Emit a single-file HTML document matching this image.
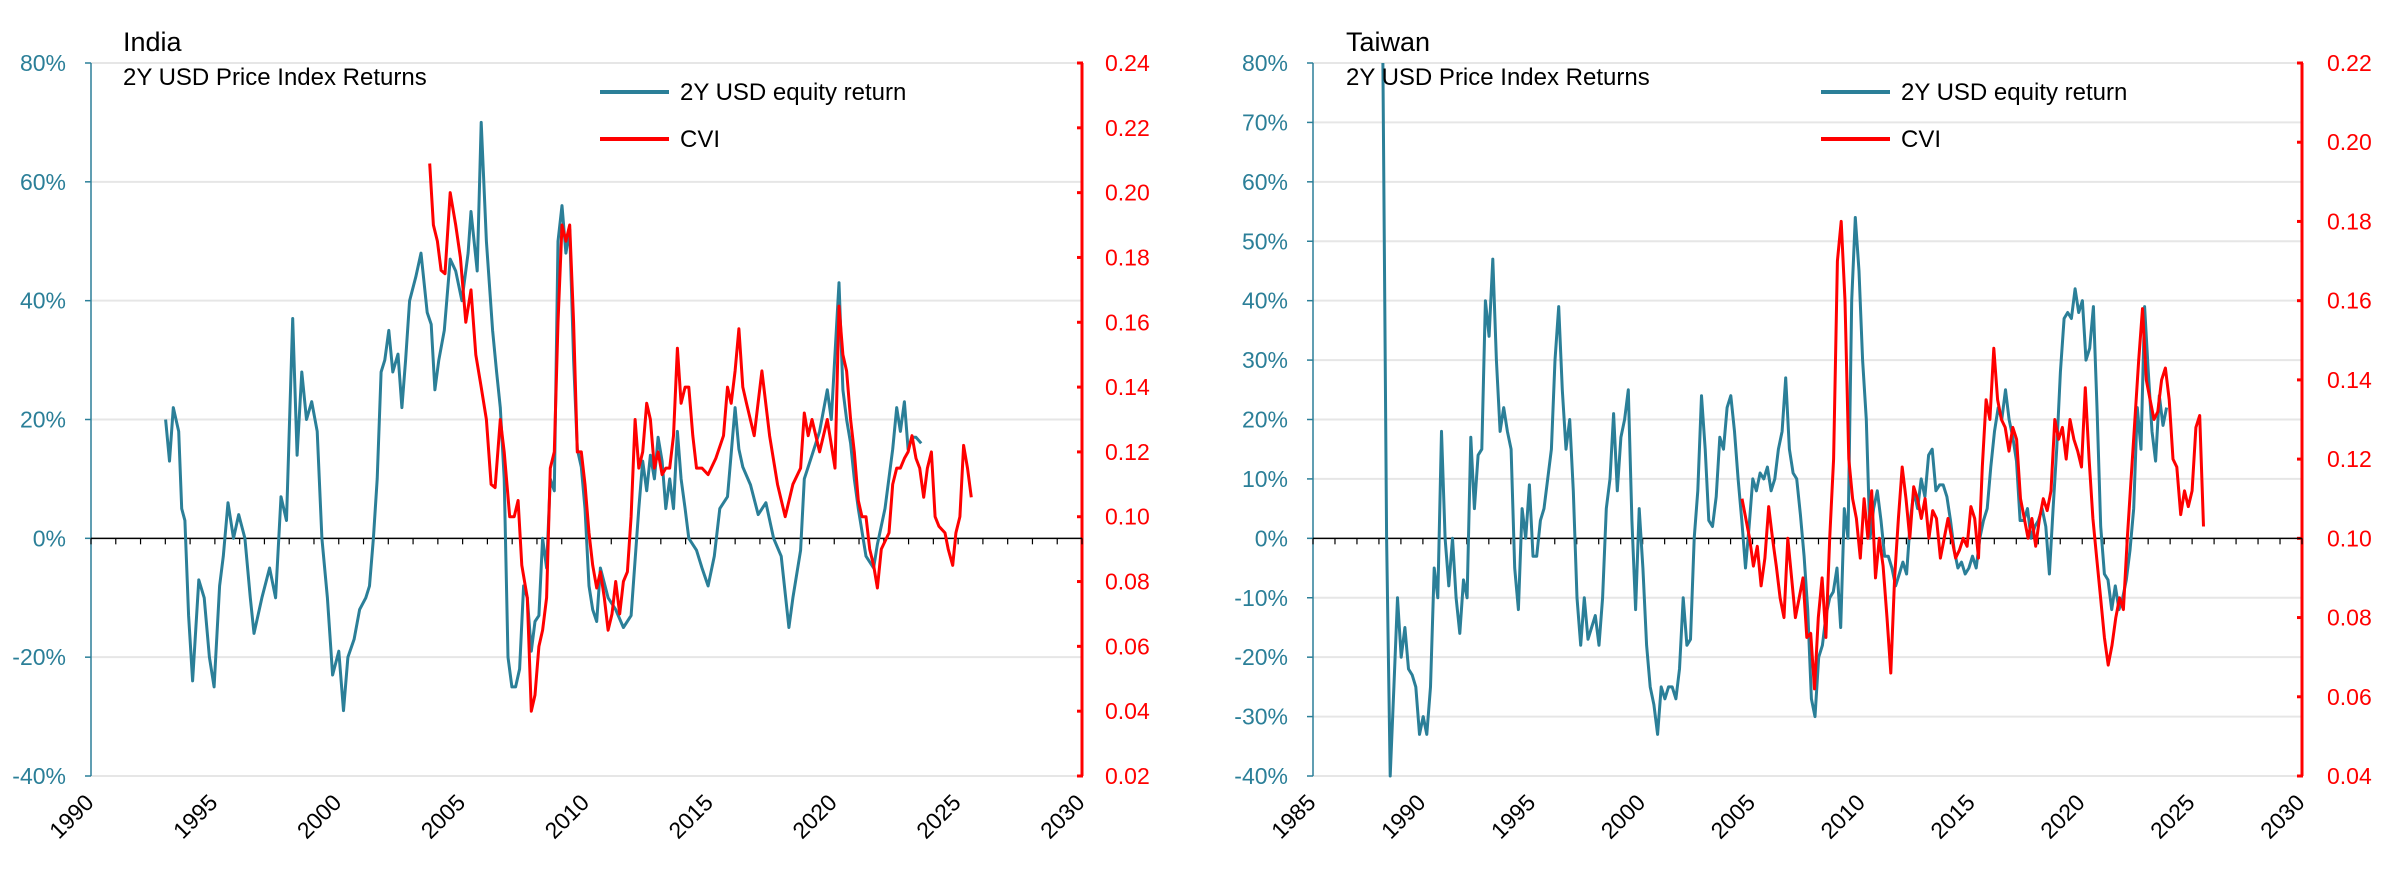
<!DOCTYPE html>
<html><head><meta charset="utf-8"><style>
html,body{margin:0;padding:0;background:#fff;}
svg{display:block;font-family:"Liberation Sans Narrow","Liberation Sans",sans-serif;}
</style></head><body>
<svg id="chart" width="2400" height="874" viewBox="0 0 2400 874"></svg>
<script>
// ---------------- DATA ----------------
const inEqYears=[1993.01,1993.17,1993.32,1993.54,1993.66,1993.79,1993.94,1994.10,1994.35,1994.57,1994.78,1994.97,1995.19,1995.34,1995.53,1995.75,1995.96,1996.21,1996.43,1996.58,1996.90,1997.21,1997.45,1997.67,1997.89,1998.14,1998.32,1998.51,1998.70,1998.91,1999.13,1999.32,1999.54,1999.75,2000.00,2000.19,2000.37,2000.62,2000.84,2001.09,2001.24,2001.40,2001.55,2001.71,2001.86,2002.02,2002.18,2002.39,2002.55,2002.70,2002.86,2003.11,2003.32,2003.57,2003.73,2003.88,2004.04,2004.26,2004.50,2004.72,2004.97,2005.22,2005.34,2005.59,2005.75,2005.96,2006.21,2006.37,2006.52,2006.68,2006.83,2006.99,2007.14,2007.30,2007.46,2007.61,2007.77,2007.92,2008.08,2008.23,2008.39,2008.54,2008.70,2008.85,2009.01,2009.17,2009.32,2009.48,2009.63,2009.79,2009.94,2010.10,2010.25,2010.41,2010.56,2010.87,2011.18,2011.49,2011.80,2012.11,2012.27,2012.43,2012.58,2012.74,2012.89,2013.05,2013.20,2013.36,2013.51,2013.67,2013.82,2013.98,2014.13,2014.44,2014.66,2014.91,2015.16,2015.38,2015.69,2016.00,2016.15,2016.31,2016.62,2016.93,2017.24,2017.55,2017.86,2018.17,2018.33,2018.64,2018.79,2019.10,2019.41,2019.72,2019.88,2020.19,2020.35,2020.50,2020.66,2020.81,2020.97,2021.28,2021.59,2021.74,2022.05,2022.36,2022.52,2022.67,2022.83,2022.98,2023.14,2023.30,2023.51];
const inEqValues=[20,13,22,18,5,3,-13,-24,-7,-10,-20,-25,-8,-3,6,0,4,0,-10,-16,-10,-5,-10,7,3,37,14,28,20,23,18,0,-10,-23,-19,-29,-20,-17,-12,-10,-8,0,10,28,30,35,28,31,22,30,40,44,48,38,36,25,30,35,47,45,40,48,55,45,70,50,35,28,22,10,-20,-25,-25,-22,-8,-10,-19,-14,-13,0,-5,10,8,50,56,48,52,30,15,12,5,-8,-12,-14,-5,-10,-12,-15,-13,5,13,8,14,10,17,13,5,10,5,18,10,5,0,-2,-5,-8,-3,5,7,22,15,12,9,4,6,0,-3,-15,-10,-2,10,14,18,25,20,43,25,20,16,10,5,-3,-5,-1,5,15,22,18,23,15,17,17,16];
const inCviYears=[2003.67,2003.82,2003.98,2004.13,2004.29,2004.50,2004.72,2004.91,2005.13,2005.34,2005.53,2005.75,2005.96,2006.15,2006.31,2006.52,2006.68,2006.90,2007.08,2007.24,2007.39,2007.61,2007.77,2007.92,2008.08,2008.23,2008.39,2008.54,2008.70,2008.85,2009.01,2009.17,2009.32,2009.48,2009.63,2009.79,2009.94,2010.10,2010.25,2010.41,2010.56,2010.72,2010.87,2011.03,2011.18,2011.34,2011.49,2011.65,2011.80,2011.96,2012.11,2012.27,2012.43,2012.58,2012.74,2012.89,2013.05,2013.20,2013.36,2013.51,2013.67,2013.82,2013.98,2014.13,2014.29,2014.44,2014.66,2014.91,2015.22,2015.53,2015.69,2015.84,2016.00,2016.15,2016.31,2016.46,2016.77,2017.08,2017.39,2017.71,2018.02,2018.33,2018.64,2018.79,2018.95,2019.10,2019.41,2019.72,2020.03,2020.19,2020.35,2020.50,2020.66,2020.81,2020.97,2021.12,2021.28,2021.43,2021.59,2021.74,2021.90,2022.21,2022.36,2022.52,2022.67,2022.83,2022.98,2023.14,2023.30,2023.45,2023.61,2023.76,2023.92,2024.07,2024.23,2024.47,2024.60,2024.78,2024.91,2025.07,2025.22,2025.38,2025.53];
const inCviValues=[0.209,0.19,0.185,0.176,0.175,0.2,0.19,0.18,0.16,0.17,0.15,0.14,0.13,0.11,0.109,0.13,0.12,0.10,0.10,0.105,0.085,0.075,0.04,0.045,0.06,0.065,0.075,0.115,0.12,0.16,0.19,0.185,0.19,0.16,0.12,0.12,0.11,0.095,0.085,0.078,0.083,0.075,0.065,0.07,0.08,0.07,0.08,0.083,0.1,0.13,0.115,0.12,0.135,0.13,0.115,0.12,0.113,0.115,0.115,0.125,0.152,0.135,0.14,0.14,0.125,0.115,0.115,0.113,0.118,0.125,0.14,0.135,0.145,0.158,0.14,0.135,0.125,0.145,0.125,0.11,0.1,0.11,0.115,0.132,0.125,0.13,0.12,0.13,0.115,0.165,0.15,0.145,0.13,0.12,0.105,0.1,0.1,0.09,0.085,0.078,0.09,0.095,0.11,0.115,0.115,0.118,0.12,0.125,0.118,0.115,0.106,0.115,0.12,0.1,0.097,0.095,0.09,0.085,0.095,0.1,0.122,0.115,0.106];

const twEqStart=1988.18, twEqEnd=2023.84;
const twEqValues=[80,0,-40,-25,-10,-20,-15,-22,-23,-25,-33,-30,-33,-25,-5,-10,18,0,-8,0,-10,-16,-7,-10,17,5,14,15,40,34,47,30,18,22,18,15,-5,-12,5,0,9,-3,-3,3,5,10,15,30,39,25,15,20,8,-10,-18,-10,-17,-15,-13,-18,-10,5,10,21,8,17,20,25,3,-12,5,-5,-18,-25,-28,-33,-25,-27,-25,-25,-27,-22,-10,-18,-17,0,8,24,15,3,2,7,17,15,22,24,18,10,3,-5,2,10,8,11,10,12,8,10,15,18,27,15,11,10,4,-3,-12,-27,-30,-20,-18,-13,-10,-9,-5,-15,5,0,40,54,45,30,20,0,5,8,3,-3,-3,-5,-8,-6,-4,-6,3,8,5,10,7,14,15,8,9,9,7,3,-2,-5,-4,-6,-5,-3,-5,0,3,5,12,18,22,20,25,20,17,13,3,3,5,0,2,3,5,2,-6,5,15,28,37,38,37,42,38,40,30,32,39,22,2,-6,-7,-12,-8,-12,-10,-7,-2,5,22,15,39,28,18,13,24,19,22];
const twCviStart=2004.52, twCviEnd=2025.52;
const twCviValues=[0.11,0.105,0.1,0.093,0.098,0.088,0.095,0.108,0.1,0.093,0.085,0.08,0.1,0.09,0.08,0.085,0.09,0.075,0.076,0.062,0.08,0.09,0.075,0.1,0.12,0.17,0.18,0.16,0.12,0.11,0.105,0.095,0.11,0.1,0.112,0.09,0.1,0.093,0.08,0.066,0.09,0.105,0.118,0.11,0.1,0.113,0.11,0.105,0.11,0.1,0.107,0.105,0.095,0.1,0.105,0.1,0.095,0.097,0.1,0.098,0.108,0.105,0.095,0.118,0.135,0.13,0.148,0.135,0.13,0.128,0.122,0.128,0.125,0.11,0.105,0.1,0.105,0.098,0.105,0.11,0.107,0.112,0.13,0.125,0.128,0.12,0.13,0.125,0.122,0.118,0.138,0.12,0.105,0.095,0.085,0.075,0.068,0.073,0.08,0.085,0.082,0.1,0.115,0.13,0.145,0.158,0.14,0.135,0.13,0.132,0.14,0.143,0.135,0.12,0.118,0.106,0.112,0.108,0.112,0.128,0.131,0.103];

const inLeftTicks=[80,60,40,20,0,-20,-40];
const inRightTicks=[0.24,0.22,0.20,0.18,0.16,0.14,0.12,0.10,0.08,0.06,0.04,0.02];
const twLeftTicks=[80,70,60,50,40,30,20,10,0,-10,-20,-30,-40];
const twRightTicks=[0.22,0.20,0.18,0.16,0.14,0.12,0.10,0.08,0.06,0.04];
const inYearTicks=[1990,1995,2000,2005,2010,2015,2020,2025,2030];
const twYearTicks=[1985,1990,1995,2000,2005,2010,2015,2020,2025,2030];

// ---------------- DRAW ----------------
const NS='http://www.w3.org/2000/svg';
const svg=document.getElementById('chart');
const TEAL='#2b7f98', RED='#ff0000';
function mk(tag,attrs,parent){const e=document.createElementNS(NS,tag);for(const k in attrs)e.setAttribute(k,attrs[k]);(parent||svg).appendChild(e);return e;}
function evenYears(s,e,n){const a=[];for(let i=0;i<n;i++)a.push(s+(e-s)*i/(n-1));return a;}

function panel(cfg){
  const g=mk('g',{});
  
  
  const X=y=>cfg.x0+(y-cfg.yr0)/(cfg.yr1-cfg.yr0)*(cfg.x1-cfg.x0);
  const YL=v=>cfg.top+(cfg.lmax-v)/(cfg.lmax-cfg.lmin)*(cfg.bot-cfg.top);
  const YR=v=>cfg.top+(cfg.rmax-v)/(cfg.rmax-cfg.rmin)*(cfg.bot-cfg.top);
  // gridlines
  cfg.lticks.forEach(t=>{
    if(t===0)return;
    const l=mk('line',{x1:cfg.x0,x2:cfg.x1,y1:YL(t),y2:YL(t),stroke:'#e6e6e6','stroke-width':2},g);
    
    
  });
  // left axis
  const la=mk('line',{x1:cfg.x0,x2:cfg.x0,y1:cfg.top,y2:cfg.bot,stroke:TEAL,'stroke-width':1.5},g);
  
  
  cfg.lticks.forEach(t=>{
    mk('line',{x1:cfg.x0-6,x2:cfg.x0,y1:YL(t),y2:YL(t),stroke:TEAL,'stroke-width':1.5},g);
    const tx=mk('text',{x:cfg.lLabelX,y:YL(t)+8,'text-anchor':'end','font-size':23,fill:TEAL},g);
    tx.textContent=t+'%';
    
    
  });
  // right axis
  const ra=mk('line',{x1:cfg.x1,x2:cfg.x1,y1:cfg.top,y2:cfg.bot,stroke:RED,'stroke-width':3},g);
  
  
  cfg.rticks.forEach(t=>{
    mk('line',{x1:cfg.x1-5,x2:cfg.x1+1,y1:YR(t),y2:YR(t),stroke:RED,'stroke-width':3},g);
    const tx=mk('text',{x:cfg.rLabelX,y:YR(t)+8,'text-anchor':'start','font-size':23,fill:RED},g);
    tx.textContent=t.toFixed(2);
    
    
  });
  // zero line + year ticks
  const z=mk('line',{x1:cfg.x0,x2:cfg.x1,y1:YL(0),y2:YL(0),stroke:'#000','stroke-width':1.5},g);
  
  
  for(let y=cfg.yr0;y<=cfg.yr1;y++){
    mk('line',{x1:X(y),x2:X(y),y1:YL(0),y2:YL(0)+6,stroke:'#000','stroke-width':1.2},g);
  }
  cfg.years.forEach(y=>{
    const px=X(y)+4, py=cfg.bot+28;
    const tx=mk('text',{x:px,y:py,'text-anchor':'end','font-size':23,fill:'#000',transform:`rotate(-45 ${px} ${py})`},g);
    tx.textContent=y;
    
    
  });
  // series
  function line(xs,vs,sc,col,nm){
    const d=vs.map((v,i)=>(i?'L':'M')+X(xs[i]).toFixed(1)+','+sc(v).toFixed(1)).join('');
    const p=mk('path',{d:d,fill:'none',stroke:col,'stroke-width':3,'stroke-linejoin':'round'},g);
    
    
  }
  line(cfg.eqX,cfg.eqV,YL,TEAL,'equity-return-line');
  line(cfg.cviX,cfg.cviV,YR,RED,'cvi-line');
  // titles
  const t1=mk('text',{x:cfg.titleX,y:51,'font-size':27,fill:'#000'},g);
  t1.textContent=cfg.title;
  
  
  const t2=mk('text',{x:cfg.titleX,y:85,'font-size':24,fill:'#000'},g);
  t2.textContent='2Y USD Price Index Returns';
  
  
  // legend
  const lg=mk('g',{},g);
  
  
  mk('line',{x1:cfg.legX,x2:cfg.legX+69,y1:92,y2:92,stroke:TEAL,'stroke-width':4},lg);
  const l1=mk('text',{x:cfg.legX+80,y:100,'font-size':24,fill:'#000'},lg);
  l1.textContent='2Y USD equity return';
  
  
  mk('line',{x1:cfg.legX,x2:cfg.legX+69,y1:139,y2:139,stroke:RED,'stroke-width':4},lg);
  const l2=mk('text',{x:cfg.legX+80,y:147,'font-size':24,fill:'#000'},lg);
  l2.textContent='CVI';
  
  
}

panel({name:'india-chart',x0:91,x1:1082,yr0:1990,yr1:2030,top:63,bot:776,lmax:80,lmin:-40,rmax:0.24,rmin:0.02,
  lticks:inLeftTicks,rticks:inRightTicks,years:inYearTicks,lLabelX:66,rLabelX:1105,titleX:123,legX:600,title:'India',
  eqX:inEqYears,eqV:inEqValues,cviX:inCviYears,cviV:inCviValues});
panel({name:'taiwan-chart',x0:1313,x1:2302,yr0:1985,yr1:2030,top:63,bot:776,lmax:80,lmin:-40,rmax:0.22,rmin:0.04,
  lticks:twLeftTicks,rticks:twRightTicks,years:twYearTicks,lLabelX:1288,rLabelX:2327,titleX:1346,legX:1821,title:'Taiwan',
  eqX:evenYears(twEqStart,twEqEnd,twEqValues.length),eqV:twEqValues,
  cviX:evenYears(twCviStart,twCviEnd,twCviValues.length),cviV:twCviValues});
</script>
</body></html>
